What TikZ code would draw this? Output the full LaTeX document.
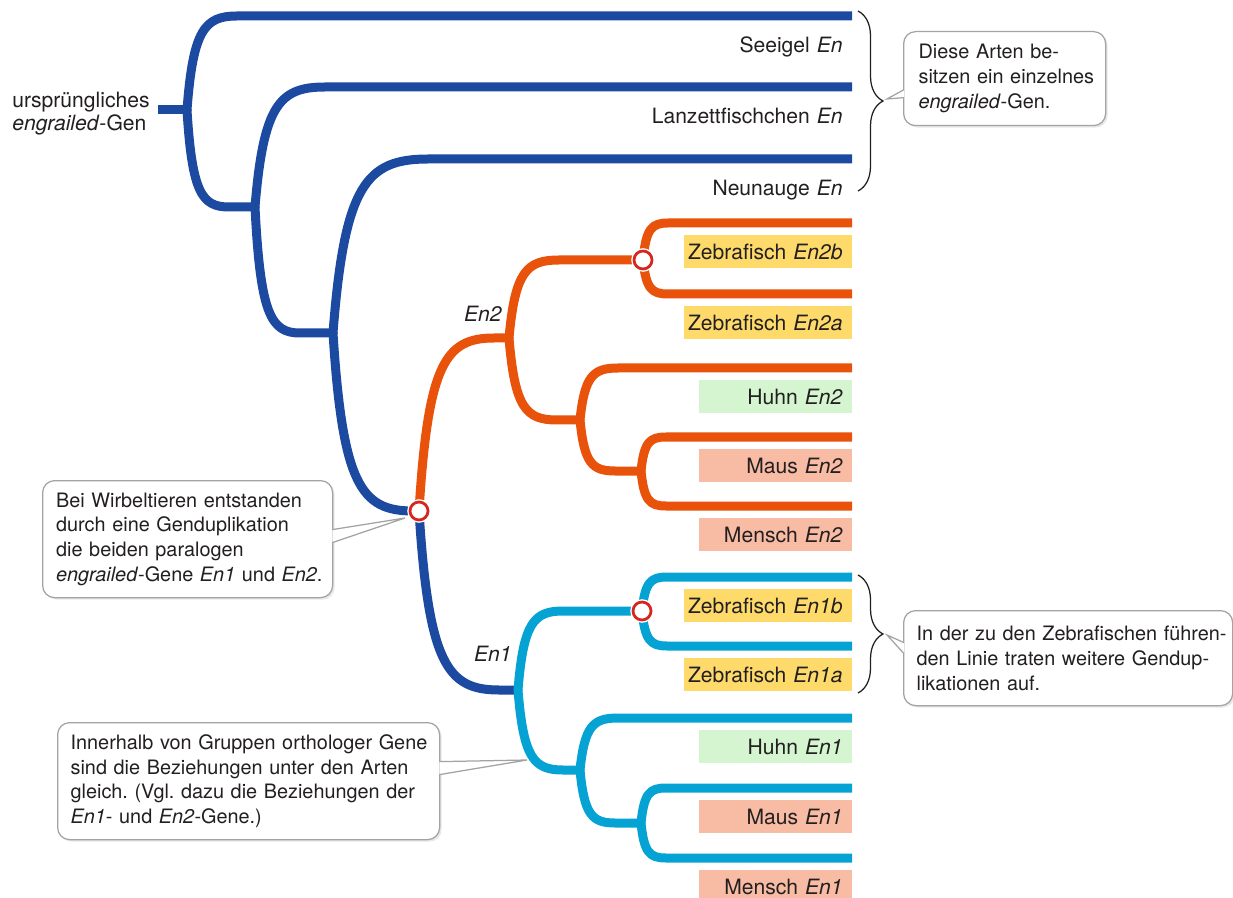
\documentclass[tikz,border=0pt]{standalone}
\usepackage{fontspec}
\setmainfont{TeX Gyre Heros}
\usepackage{xcolor}
\usepackage{tikz}
\usetikzlibrary{calc,decorations.pathreplacing,shadows}
\definecolor{treeblue}{HTML}{1B4AA0}
\definecolor{treeorange}{HTML}{E9520A}
\definecolor{treecyan}{HTML}{05A3D4}
\definecolor{dupred}{HTML}{D7261E}
\definecolor{zebra}{HTML}{FDDA6A}
\definecolor{bird}{HTML}{D5F5D0}
\definecolor{mammal}{HTML}{F8BBA4}
\definecolor{ink}{HTML}{231F20}
\definecolor{frame}{HTML}{A3A3A3}
\newcommand\leaffont{\fontsize{12}{14}\selectfont}
\newcommand\notefont{\fontsize{11.3}{14.1}\selectfont\frenchspacing}
\newcommand\leaftext[1]{\hbox to\hsize{\hss#1}}
\tikzset{
  branch/.style={to path={let \p1=(\tikztostart), \p2=(\tikztotarget) in
    .. controls ({\x1+0.12*#1},{\y1+0.85*(\y2-\y1)}) and ({\x1+0.35*#1},\y2) .. ({\x1+#1},\y2) -- (\tikztotarget)}},
  blueline/.style={draw=treeblue, line width=1.8mm, line join=round},
  orangeline/.style={draw=treeorange, line width=1.8mm, line join=round},
  cyanline/.style={draw=treecyan, line width=1.8mm, line join=round},
  dupl/.style={circle, draw=dupred, fill=white, line width=0.55mm, minimum size=3.6mm, inner sep=0pt,
    preaction={draw=white, line width=1.1mm}},
  leaflab/.style={anchor=north east, yshift=-2.4mm, inner xsep=1.8mm, inner ysep=0.6mm,
    text height=4.2mm, text depth=1.2mm, align=right, text width=#1, font=\leaffont, text=ink},
  cladelab/.style={anchor=base east, inner sep=0pt, font=\leaffont\itshape, text=ink},
  rootlab/.style={anchor=west, inner sep=0pt, align=left, font=\fontsize{12}{13.1}\selectfont, text=ink},
  note/.style={draw=frame, line width=0.25mm, fill=white, rounded corners=2.4mm, align=left,
    anchor=north west, inner ysep=0pt, font=\notefont, text=ink,
    drop shadow={shadow xshift=0.4mm, shadow yshift=-0.4mm, opacity=0.18}},
  pointer/.style={draw=frame, line width=0.25mm, fill=white, line join=miter},
  curly/.style={decorate, decoration={brace, amplitude=5mm}, draw=ink, line width=0.25mm},
}

\begin{document}
\begin{tikzpicture}[x=0.2mm, y=-0.2mm]
  \useasboundingbox (0,0) rectangle (1233,898);
  % junctions
  \coordinate (stub) at (158,110);
  \coordinate (nA) at (187,110);
  \coordinate (nB) at (255,207);
  \coordinate (nC) at (333,333);
  \coordinate (dup) at (419,511);
  \coordinate (en2) at (509,338);
  \coordinate (z2) at (643,260);
  \coordinate (h2) at (580,420);
  \coordinate (m2) at (641,471);
  \coordinate (en1) at (518,690);
  \coordinate (z1) at (642,611);
  \coordinate (h1) at (580,770);
  \coordinate (m1) at (641,823);
  % leaf ends
  \coordinate (seeigel) at (852,16);
  \coordinate (lanzett) at (852,87);
  \coordinate (neunauge) at (852,159);
  \coordinate (zf-2b) at (852,223);
  \coordinate (zf-2a) at (852,294);
  \coordinate (huhn-2) at (852,368);
  \coordinate (maus-2) at (852,437);
  \coordinate (mensch-2) at (852,506);
  \coordinate (zf-1b) at (852,577);
  \coordinate (zf-1a) at (852,646);
  \coordinate (huhn-1) at (852,718);
  \coordinate (maus-1) at (852,788);
  \coordinate (mensch-1) at (852,858);

  % blue part
  \draw[blueline] (stub) -- (nA);
  \draw[blueline] (nA) to[branch=10mm] (seeigel);
  \draw[blueline] (nA) to[branch=8.4mm] (nB);
  \draw[blueline] (nB) to[branch=14mm] (lanzett);
  \draw[blueline] (nB) to[branch=9mm] (nC);
  \draw[blueline] (nC) to[branch=19mm] (neunauge);
  \draw[blueline] (nC) to[branch=16mm] (dup);
  \draw[blueline] (dup) to[branch=16mm] (en1);
  \fill[treeblue] (nA) circle[radius=0.9mm] (nB) circle[radius=0.9mm] (nC) circle[radius=0.9mm];

  % En2 (orange)
  \draw[orangeline] (dup) to[branch=15mm] (en2);
  \draw[orangeline] (en2) to[branch=10mm] (z2);
  \draw[orangeline] (en2) to[branch=9.6mm] (h2);
  \draw[orangeline] (z2) to[branch=5mm] (zf-2b);
  \draw[orangeline] (z2) to[branch=5mm] (zf-2a);
  \draw[orangeline] (h2) to[branch=7.6mm] (huhn-2);
  \draw[orangeline] (h2) to[branch=7mm] (m2);
  \draw[orangeline] (m2) to[branch=5mm] (maus-2);
  \draw[orangeline] (m2) to[branch=5mm] (mensch-2);
  \fill[treeorange] (en2) circle[radius=0.9mm] (h2) circle[radius=0.9mm] (m2) circle[radius=0.9mm];

  % En1 (cyan)
  \draw[cyanline] (en1) to[branch=9mm] (z1);
  \draw[cyanline] (en1) to[branch=9mm] (h1);
  \draw[cyanline] (z1) to[branch=5mm] (zf-1b);
  \draw[cyanline] (z1) to[branch=5mm] (zf-1a);
  \draw[cyanline] (h1) to[branch=7.6mm] (huhn-1);
  \draw[cyanline] (h1) to[branch=7mm] (m1);
  \draw[cyanline] (m1) to[branch=5mm] (maus-1);
  \draw[cyanline] (m1) to[branch=5mm] (mensch-1);
  \fill[treecyan] (en1) circle[radius=0.9mm] (h1) circle[radius=0.9mm] (m1) circle[radius=0.9mm];

  % duplications
  \node[dupl] (dup-v) at (dup) {};
  \node[dupl] (dup-z2) at (z2) {};
  \node[dupl] (dup-z1) at (z1) {};

  % labels
  \node[rootlab] (ancestor) at (12,114) {ursprüngliches\\\textit{engrailed}-Gen};
  \node[cladelab] (lab-en2) at (502,322) {En2};
  \node[cladelab] (lab-en1) at (512,661) {En1};
  \node[leaflab=40mm] (lab-seeigel) at (seeigel) {\leaftext{Seeigel \textit{En}}};
  \node[leaflab=40mm] (lab-lanzett) at (lanzett) {\leaftext{Lanzettfischchen \textit{En}}};
  \node[leaflab=40mm] (lab-neunauge) at (neunauge) {\leaftext{Neunauge \textit{En}}};
  \node[leaflab=30mm, fill=zebra] (lab-zf-2b) at (zf-2b) {\leaftext{Zebrafisch \textit{En2b}}};
  \node[leaflab=30mm, fill=zebra] (lab-zf-2a) at (zf-2a) {\leaftext{Zebrafisch \textit{En2a}}};
  \node[leaflab=27mm, fill=bird] (lab-huhn-2) at (huhn-2) {\leaftext{Huhn \textit{En2}}};
  \node[leaflab=27mm, fill=mammal] (lab-maus-2) at (maus-2) {\leaftext{Maus \textit{En2}}};
  \node[leaflab=27mm, fill=mammal] (lab-mensch-2) at (mensch-2) {\leaftext{Mensch \textit{En2}}};
  \node[leaflab=30mm, fill=zebra] (lab-zf-1b) at (zf-1b) {\leaftext{Zebrafisch \textit{En1b}}};
  \node[leaflab=30mm, fill=zebra] (lab-zf-1a) at (zf-1a) {\leaftext{Zebrafisch \textit{En1a}}};
  \node[leaflab=27mm, fill=bird] (lab-huhn-1) at (huhn-1) {\leaftext{Huhn \textit{En1}}};
  \node[leaflab=27mm, fill=mammal] (lab-maus-1) at (maus-1) {\leaftext{Maus \textit{En1}}};
  \node[leaflab=27mm, fill=mammal] (lab-mensch-1) at (mensch-1) {\leaftext{Mensch \textit{En1}}};

  % braces
  \coordinate (brA1) at (858,11);
  \coordinate (brA2) at (858,191);
  \coordinate (brB1) at (858,575);
  \coordinate (brB2) at (858,693);
  \draw[curly] (brA1) -- (brA2);
  \draw[curly] (brB1) -- (brB2);

  % callouts
  \coordinate (tip1) at (887,99);
  \coordinate (tip2) at (405,518);
  \coordinate (tip3) at (887,635);
  \coordinate (tip4) at (527,760);
  \node[note, inner xsep=3mm, text width=34.4mm, minimum height=18.8mm] (note1) at (903,31)
    {\mbox{Diese Arten be-}\\\mbox{sitzen ein einzelnes}\\\mbox{\textit{engrailed}-Gen.}};
  \draw[pointer] ($(note1.west)+(1,11)$) -- (tip1) -- ($(note1.west)+(1,19)$);
  \node[note, inner xsep=2.7mm, text width=52.6mm, minimum height=23.4mm] (note2) at (42,480)
    {\mbox{Bei Wirbeltieren entstanden}\\\mbox{durch eine Genduplikation}\\\mbox{die beiden paralogen}\\\mbox{\textit{engrailed}-Gene \textit{En1} und \textit{En2}.}};
  \draw[pointer] ($(note2.east)+(-1,-9.5)$) -- (tip2) -- ($(note2.east)+(-1,3.5)$);
  \node[note, inner xsep=2.6mm, text width=60.6mm, minimum height=19mm] (note3) at (903,610)
    {\mbox{In der zu den Zebrafischen führen-}\\\mbox{den Linie traten weitere Gendup-}\\\mbox{likationen auf.}};
  \draw[pointer] ($(note3.west)+(1,-15.5)$) -- (tip3) -- ($(note3.west)+(1,-4.5)$);
  \node[note, inner xsep=2.6mm, text width=71.2mm, minimum height=23.4mm] (note4) at (57,722)
    {\mbox{Innerhalb von Gruppen orthologer Gene}\\\mbox{sind die Beziehungen unter den Arten}\\\mbox{gleich. (Vgl. dazu die Beziehungen der}\\\mbox{\textit{En1}- und \textit{En2}-Gene.)}};
  \draw[pointer] ($(note4.east)+(-1,-19.5)$) -- (tip4) -- ($(note4.east)+(-1,-6.5)$);
\end{tikzpicture}
\end{document}
